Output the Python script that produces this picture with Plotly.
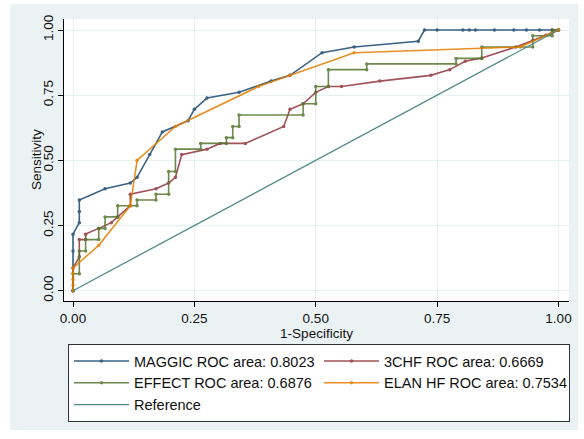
import plotly.graph_objects as go

# ---- data ----
maggic_x = [0, 0, 0, 0.013, 0.013, 0.013, 0.066, 0.118, 0.132, 0.158, 0.184, 0.237, 0.25, 0.276,
            0.342, 0.408, 0.447, 0.513, 0.579, 0.711, 0.724, 0.75, 0.803, 0.816, 0.829, 0.868,
            0.908, 0.934, 0.961, 0.987, 1]
maggic_y = [0, 0.152, 0.217, 0.261, 0.304, 0.348, 0.391, 0.413, 0.435, 0.522, 0.609, 0.652, 0.696,
            0.739, 0.761, 0.804, 0.826, 0.913, 0.935, 0.957, 1, 1, 1, 1, 1, 1, 1, 1, 1, 1, 1]

chf_x = [0, 0, 0.013, 0.013, 0.026, 0.026, 0.053, 0.079, 0.092, 0.118, 0.118, 0.171, 0.197, 0.211,
         0.224, 0.276, 0.303, 0.355, 0.434, 0.447, 0.474, 0.5, 0.526, 0.553, 0.632, 0.737, 0.776,
         0.808, 0.842, 0.912, 0.947, 0.974, 0.987, 1]
chf_y = [0, 0.087, 0.130, 0.196, 0.196, 0.217, 0.239, 0.261, 0.283, 0.326, 0.370, 0.391, 0.413,
         0.435, 0.522, 0.543, 0.565, 0.565, 0.630, 0.696, 0.717, 0.761, 0.783, 0.783, 0.804, 0.826,
         0.848, 0.880, 0.893, 0.935, 0.960, 0.980, 0.989, 1]

effect_x = [0, 0, 0.013, 0.013, 0.026, 0.026, 0.053, 0.053, 0.066, 0.066, 0.092, 0.092, 0.132,
            0.132, 0.171, 0.171, 0.197, 0.197, 0.211, 0.211, 0.263, 0.263, 0.316, 0.316, 0.329,
            0.329, 0.342, 0.342, 0.474, 0.474, 0.5, 0.5, 0.526, 0.526, 0.605, 0.605, 0.789, 0.789,
            0.842, 0.842, 0.947, 0.947, 0.987, 0.987, 1]
effect_y = [0, 0.065, 0.065, 0.152, 0.152, 0.196, 0.196, 0.239, 0.239, 0.283, 0.283, 0.326, 0.326,
            0.348, 0.348, 0.370, 0.370, 0.457, 0.457, 0.543, 0.543, 0.565, 0.565, 0.587, 0.587,
            0.630, 0.630, 0.674, 0.674, 0.717, 0.717, 0.783, 0.783, 0.848, 0.848, 0.870, 0.870,
            0.891, 0.891, 0.935, 0.935, 0.978, 0.978, 1, 1]

elan_x = [0, 0, 0, 0, 0, 0.053, 0.118, 0.132, 0.211, 0.382, 0.447, 0.579, 0.921, 1]
elan_y = [0, 0.022, 0.043, 0.065, 0.087, 0.174, 0.326, 0.5, 0.630, 0.783, 0.826, 0.913, 0.935, 1]

ref_x = [0, 1]
ref_y = [0, 1]

series_names = ["MAGGIC ROC area: 0.8023", "3CHF ROC area: 0.6669",
                "EFFECT ROC area: 0.6876", "ELAN HF ROC area: 0.7534", "Reference"]
tick_vals = [0, 0.25, 0.5, 0.75, 1.0]
tick_text = ["0.00", "0.25", "0.50", "0.75", "1.00"]

colors = ["#1a476f", "#90353b", "#55752f", "#e37e00", "#4f8a86"]

FONT = "Liberation Sans, Arial, Helvetica, sans-serif"

fig = go.Figure()
data = [(maggic_x, maggic_y), (chf_x, chf_y), (effect_x, effect_y), (elan_x, elan_y)]
for (xs, ys), name, col in zip(data, series_names[:4], colors[:4]):
    fig.add_trace(go.Scatter(x=xs, y=ys, mode="lines+markers", name=name,
                             line=dict(color=col, width=1.6),
                             marker=dict(color=col, size=3.5),
                             opacity=0.85))
fig.add_trace(go.Scatter(x=ref_x, y=ref_y, mode="lines", name=series_names[4],
                         line=dict(color=colors[4], width=1.3)))

W, H = 584, 439
L, R, T, B = 64, 15, 19, 138
pw, ph = W - L - R, H - T - B

# panel background (light bluish) spanning around plot and legend
fig.add_shape(type="rect", xref="paper", yref="paper",
              x0=(10 - L) / pw, x1=(578 - L) / pw,
              y0=(T + ph - 430) / ph, y1=(T + ph - 4) / ph,
              fillcolor="#eaf2f3", line=dict(width=0), layer="below")
fig.add_shape(type="rect", xref="paper", yref="paper",
              x0=0, x1=1, y0=0, y1=1,
              fillcolor="white", line=dict(width=0), layer="below")

fig.add_annotation(text="Sensitivity", xref="paper", yref="paper",
                   x=(36 - L) / pw, y=(T + ph - 160) / ph, textangle=-90,
                   showarrow=False, xanchor="center", yanchor="middle",
                   font=dict(family=FONT, size=13.5, color="#111"))

fig.update_layout(
    width=W, height=H,
    margin=dict(l=L, r=R, t=T, b=B, autoexpand=False),
    paper_bgcolor="white", plot_bgcolor="rgba(0,0,0,0)",
    font=dict(family=FONT, size=13, color="#111"),
    showlegend=True,
    legend=dict(orientation="h", x=(68 - L) / pw, y=(T + ph - 344) / ph,
                xanchor="left", yanchor="top",
                bgcolor="white", bordercolor="#333", borderwidth=1,
                font=dict(family=FONT, size=14.5, color="#111"),
                itemwidth=55,
                entrywidth=180, tracegroupgap=0, traceorder="normal"),
)
fig.update_xaxes(range=[-(73 - L) / 485.5, 1 + (L + pw - 558.5) / 485.5],
                 tickvals=tick_vals, ticktext=tick_text, automargin=False,
                 showline=True, linecolor="black", linewidth=1,
                 ticks="outside", ticklen=5, tickcolor="black",
                 showgrid=True, gridcolor="#e6eff1", gridwidth=1, zeroline=False,
                 tickfont=dict(size=13.5),
                 title=dict(text="1-Specificity", font=dict(size=13.5), standoff=2))
fig.update_yaxes(range=[-(301 - 290.7) / 260.7, 1 + (30 - 19) / 260.7],
                 tickvals=tick_vals, ticktext=tick_text, tickangle=-90, automargin=False,
                 showline=True, linecolor="black", linewidth=1,
                 ticks="outside", ticklen=5, tickcolor="black",
                 showgrid=True, gridcolor="#e6eff1", gridwidth=1, zeroline=False,
                 tickfont=dict(size=13.5))

fig.write_html("out.html", config={"displayModeBar": False},
               post_script="document.body.style.margin='0px';document.body.style.padding='0px';")
